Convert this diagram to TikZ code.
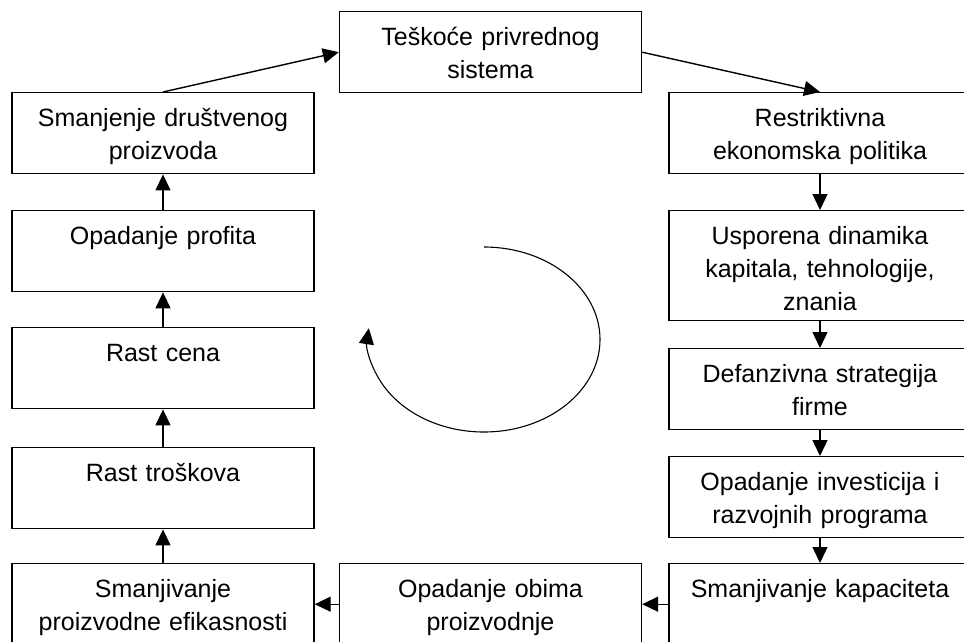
\documentclass[tikz,border=0pt]{standalone}
\usepackage{fontspec}
\setmainfont{Liberation Sans}
\usepackage{tikz}
\usetikzlibrary{arrows.meta}

\begin{document}
\begin{tikzpicture}[x=1pt, y=-1pt,
  box/.style={draw, line width=1.4pt, text width=302pt, align=center, inner sep=0pt,
    text height=34pt, text depth=47pt, anchor=north, font=\fontsize{25}{33}\selectfont},
  arr/.style={line width=1.4pt, -{Triangle[length=16pt, width=15pt]}}]
  \useasboundingbox (0,0) rectangle (964,641);
  \clip (0,0) rectangle (964,641);
  \node[box] (tesk) at (490.5,11) {Teškoće privrednog\\ sistema};
  % left column
  \node[box] (drpr) at (163,92) {Smanjenje društvenog\\ proizvoda};
  \node[box] (prof) at (163,210) {Opadanje profita};
  \node[box] (cena) at (163,327) {Rast cena};
  \node[box] (tros) at (163,447) {Rast troškova};
  \node[box] (efik) at (163,563) {Smanjivanje\\ proizvodne efikasnosti};
  % right column
  \node[box] (restr) at (820,92) {Restriktivna\\ ekonomska politika};
  \node[box, text depth=76pt] (dinam) at (820,210) {Usporena dinamika\\ kapitala, tehnologije,\\ znania};
  \node[box] (strat) at (820,348) {Defanzivna strategija\\ firme};
  \node[box] (inves) at (820,456) {Opadanje investicija i\\ razvojnih programa};
  \node[box] (kapac) at (820,563) {Smanjivanje kapaciteta};
  \node[box] (obim) at (490.5,563) {Opadanje obima\\ proizvodnje};

  \draw[arr] (drpr.north) -- (tesk.west);
  \draw[arr] (tesk.east) -- (restr.north);
  \draw[arr] (restr.south) -- (dinam.north);
  \draw[arr] (dinam.south) -- (strat.north);
  \draw[arr] (strat.south) -- (inves.north);
  \draw[arr] (inves.south) -- (kapac.north);
  \draw[arr] (kapac.west) -- (obim.east);
  \draw[arr] (obim.west) -- (efik.east);
  \draw[arr] (efik.north) -- (tros.south);
  \draw[arr] (tros.north) -- (cena.south);
  \draw[arr] (cena.north) -- (prof.south);
  \draw[arr] (prof.north) -- (drpr.south);
  % the cycle
  \draw[arr, line width=1.1pt] (484,247) arc [start angle=-90, end angle=187, x radius=116, y radius=92.5];
\end{tikzpicture}
\end{document}
